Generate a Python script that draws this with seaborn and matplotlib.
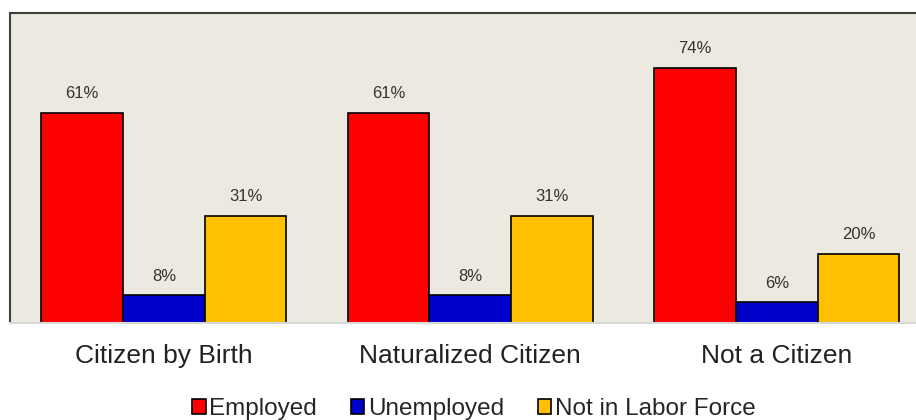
import numpy as np
import matplotlib.pyplot as plt
import pandas as pd
import seaborn as sns

# data
groups = ["Citizen by Birth", "Naturalized Citizen", "Not a Citizen"]
statuses = ["Employed", "Unemployed", "Not in Labor Force"]
employed = [61, 61, 74]
unemployed = [8, 8, 6]
not_in_lf = [31, 31, 20]

colours = ["#FF0000", "#0000CC", "#FFC000"]

df = pd.DataFrame({
    "group": groups * 3,
    "status": np.repeat(statuses, len(groups)),
    "pct": employed + unemployed + not_in_lf,
})

sns.set_style("white")
plt.rcParams["font.family"] = ["Liberation Sans", "DejaVu Sans"]

fig = plt.figure(figsize=(9.16, 4.2), dpi=100)
ax = fig.add_axes([10/916, 1 - 323/420, 920/916, 310/420])
ax.set_facecolor("#ECE9E0")

sns.barplot(data=df, x="group", y="pct", hue="status", palette=colours,
            order=groups, hue_order=statuses, width=0.8, gap=0,
            edgecolor="black", linewidth=1.2, saturation=1, ax=ax, legend=True)

for cont in ax.containers:
    ax.bar_label(cont, labels=[f"{v:.0f}%" for v in cont.datavalues],
                 padding=8.5, fontsize=12, color="#333333")

ax.set_xlim(-0.502, 2.5)
ax.set_ylim(0, 90)
ax.set_yticks([])
ax.set_xlabel("")
ax.set_ylabel("")
ax.tick_params(axis="x", length=0, labelsize=19, pad=15, colors="#222222")

for s in ["left", "top", "right"]:
    ax.spines[s].set_color("#404040")
    ax.spines[s].set_linewidth(1.5)
ax.spines["bottom"].set_color("#D8D8D8")
ax.spines["bottom"].set_linewidth(1.5)

handles, labels = ax.get_legend_handles_labels()
ax.legend_.remove()
fig.legend(handles, labels, loc="center", bbox_to_anchor=(474/916, 1 - 409/420),
           ncol=3, frameon=False, fontsize=17.5, handlelength=0.55,
           handleheight=0.55, handletextpad=0.15, columnspacing=1.4)

fig.savefig("out.png", dpi=100)
plt.close()
